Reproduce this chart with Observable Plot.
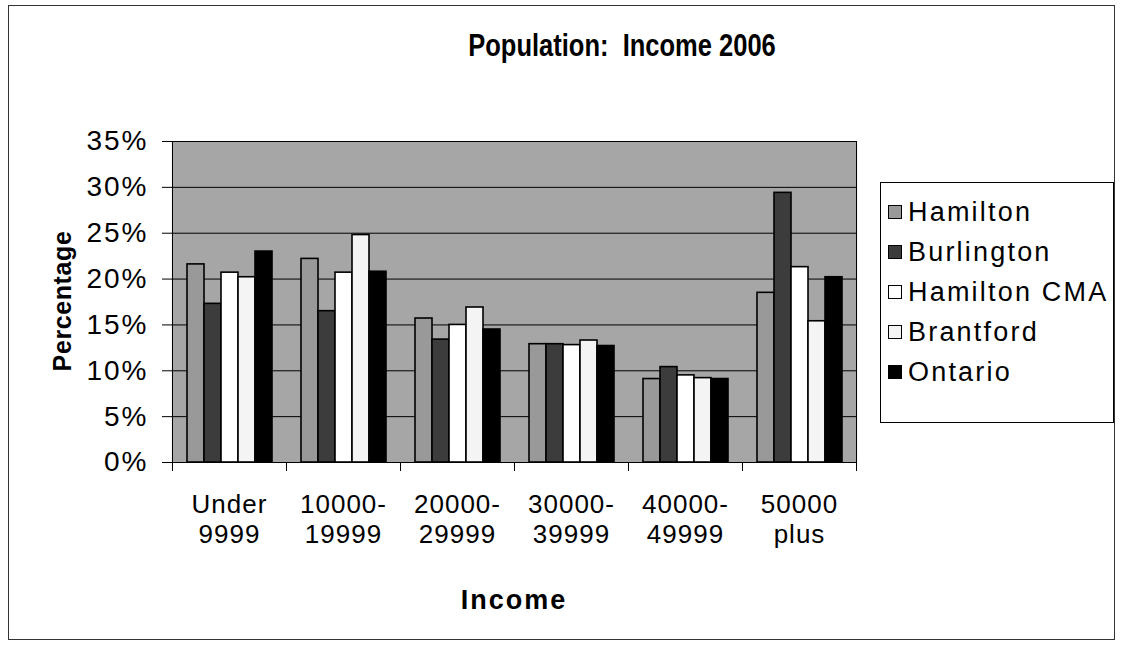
<!DOCTYPE html>
<html>
<head>
<meta charset="utf-8">
<script src="https://cdn.jsdelivr.net/npm/d3@7"></script>
<script src="https://cdn.jsdelivr.net/npm/@observablehq/plot@0.6"></script>
<style>
  html, body { margin: 0; padding: 0; background: #fff; }
  #wrap { position: relative; width: 1123px; height: 647px; overflow: hidden; font-family: "Liberation Sans", Arial, sans-serif; color: #000; }
  #border { position: absolute; left: 8px; top: 5px; width: 1107px; height: 635px; border: 1px solid #333; box-sizing: border-box; }
  #chart { position: absolute; left: 0; top: 0; }
  #title { position: absolute; left: 622px; top: 46px; transform: translate(-50%, -50%) scaleY(1.2); font-weight: bold; font-size: 25.5px; white-space: pre; }
  #ytitle { position: absolute; left: 62px; top: 301px; transform: translate(-50%, -50%) rotate(-90deg); font-weight: bold; font-size: 25px; letter-spacing: 0.6px; white-space: nowrap; }
  #xtitle { position: absolute; left: 514px; top: 600px; transform: translate(-50%, -50%); font-weight: bold; font-size: 27px; letter-spacing: 2px; }
  #legend { position: absolute; left: 880px; top: 182px; width: 234px; height: 241px; border: 1px solid #000; box-sizing: border-box; padding-top: 9px; padding-left: 7px; }
  .item { height: 40px; display: flex; align-items: center; font-size: 27px; letter-spacing: 2.2px; white-space: nowrap; }
  .sw { width: 12px; height: 12px; border: 1px solid #000; margin-right: 6px; flex: none; }
</style>
</head>
<body>
<div id="wrap">
  <div id="border"></div>
  <div id="chart"></div>
  <div id="title">Population:  Income 2006</div>
  <div id="ytitle">Percentage</div>
  <div id="xtitle">Income</div>
  <div id="legend"></div>
</div>
<script>
const categories = ["Under\n9999", "10000-\n19999", "20000-\n29999", "30000-\n39999", "40000-\n49999", "50000\nplus"];
const series = ["Hamilton", "Burlington", "Hamilton CMA", "Brantford", "Ontario"];
const hamilton    = [21.6, 22.2, 15.7, 12.9, 9.1, 18.5];
const burlington  = [17.3, 16.5, 13.4, 12.9, 10.4, 29.4];
const hamiltonCMA = [20.7, 20.7, 15.0, 12.8, 9.5, 21.3];
const brantford   = [20.2, 24.8, 16.9, 13.3, 9.2, 15.4];
const ontario     = [23.0, 20.8, 14.5, 12.7, 9.1, 20.2];
const yTicks = [0, 5, 10, 15, 20, 25, 30, 35];
const colors = ["#999999", "#3c3c3c", "#ffffff", "#f4f4f4", "#000000"];
const plotBg = "#a6a6a6";

const valuesBySeries = [hamilton, burlington, hamiltonCMA, brantford, ontario];
const data = [];
categories.forEach((c, i) => {
  series.forEach((s, j) => data.push({cat: c, series: s, value: valuesBySeries[j][i]}));
});

const chart = Plot.plot({
  width: 1123,
  height: 647,
  marginLeft: 170,
  marginRight: 266,
  marginTop: 141,
  marginBottom: 185,
  style: {fontFamily: "'Liberation Sans', Arial, sans-serif", fontSize: "26px", color: "#000", background: "transparent", overflow: "visible"},
  fx: {domain: categories, padding: 0, label: null},
  x: {domain: series, paddingInner: 0, paddingOuter: 0.715, axis: null},
  y: {domain: [0, 35], label: null},
  color: {domain: series, range: colors},
  marks: [
    Plot.frame({fill: plotBg, stroke: "none", insetLeft: -0.6, insetRight: -0.6}),
    Plot.gridY(yTicks.filter(d => d > 0), {stroke: "#000", strokeOpacity: 1, strokeWidth: 1}),
    Plot.barY(data, {fx: "cat", x: "series", y: "value", fill: "series", stroke: "#000", strokeWidth: 1.6}),
    Plot.ruleY([0], {stroke: "#000", strokeWidth: 1}),
    Plot.frame({anchor: "left", fx: categories[0], stroke: "#000"}),
    Plot.frame({anchor: "right", fx: categories[categories.length - 1], stroke: "#000"}),
    Plot.frame({anchor: "left", insetTop: 321, insetBottom: -8, stroke: "#000"}),
    Plot.frame({anchor: "right", insetTop: 321, insetBottom: -8, stroke: "#000"}),
    Plot.axisY(yTicks, {tickSize: 10, tickPadding: 14, tickFormat: d => d + "%", label: null, stroke: "#000", fontSize: 28}),
    Plot.axisFx({anchor: "bottom", tickSize: 0, tickPadding: 30, lineHeight: 1.13, label: null, fontSize: 26})
  ]
});
document.getElementById("chart").appendChild(chart);
// widen the tick label lettering slightly, as in the reference
chart.querySelectorAll("g[aria-label='y-axis tick label'] text").forEach(t => t.setAttribute("letter-spacing", "2"));
chart.querySelectorAll("g[aria-label='fx-axis tick label'] text").forEach(t => t.setAttribute("letter-spacing", "1"));

const legend = document.getElementById("legend");
series.forEach((s, j) => {
  const item = document.createElement("div");
  item.className = "item";
  const sw = document.createElement("span");
  sw.className = "sw";
  sw.style.background = colors[j];
  item.appendChild(sw);
  item.appendChild(document.createTextNode(s));
  legend.appendChild(item);
});
</script>
</body>
</html>
